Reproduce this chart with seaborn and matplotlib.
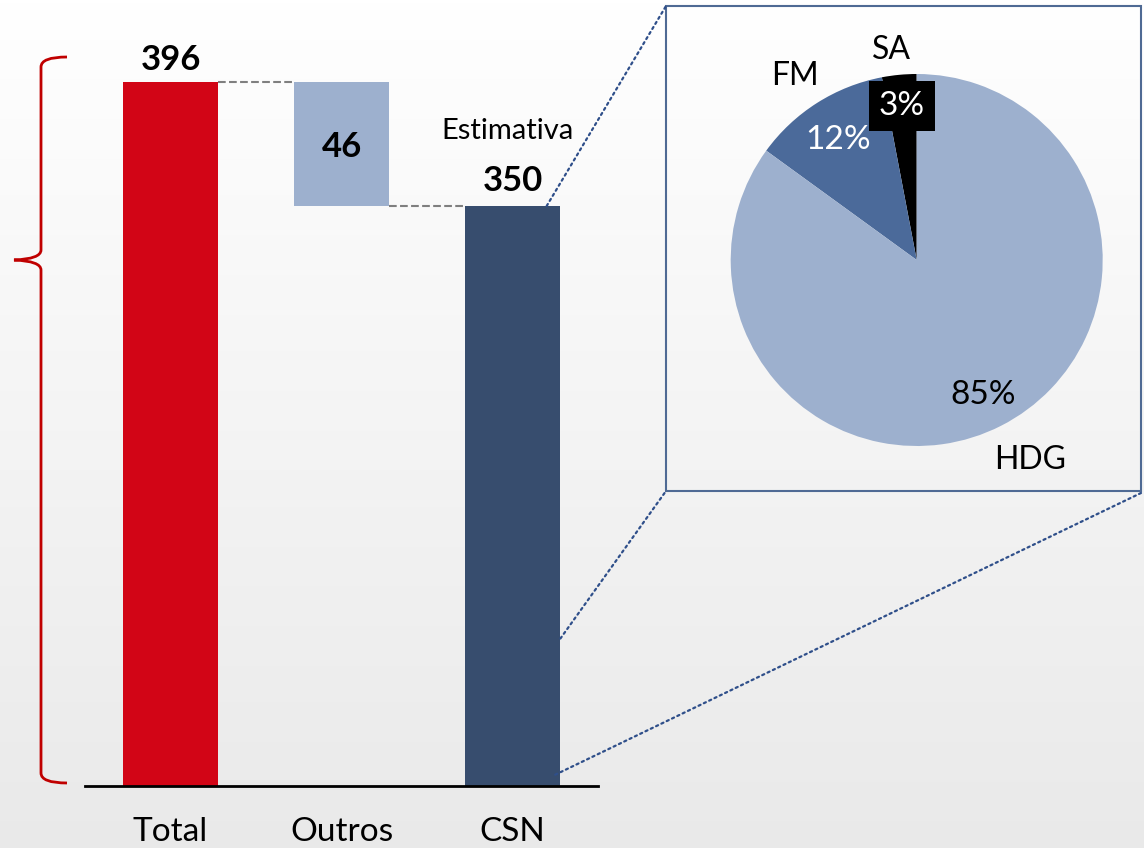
import numpy as np
import matplotlib
matplotlib.use("Agg")
import matplotlib.pyplot as plt
import seaborn as sns
from matplotlib.patches import Rectangle, PathPatch, ConnectionPatch
from matplotlib.path import Path

# ---------------- data ----------------
categories = ["Total", "Outros", "CSN"]
total_value = 396
outros_value = 46
csn_value = 350
bar_labels = ["396", "46", "350"]
estimate_note = "Estimativa"

pie_labels = ["SA", "FM", "HDG"]
pie_values = [3, 12, 85]

# ---------------- style ----------------
sns.set_theme(style="white")
plt.rcParams["font.family"] = ["Lato", "DejaVu Sans"]

RED = "#D20516"
LIGHT = "#9DB0CE"
DARK = "#374D6E"
FMCOL = "#4B6A9A"

W, H = 1144, 848
fig = plt.figure(figsize=(W / 100, H / 100), dpi=100)

# background gradient
bg = fig.add_axes([0, 0, 1, 1], zorder=-10)
grad = np.linspace(1.0, 0.915, 256).reshape(-1, 1)
bg.imshow(np.dstack([grad, grad, grad]), aspect="auto", extent=[0, 1, 0, 1])
bg.set_axis_off()

# ---------------- waterfall bars ----------------
ax = fig.add_axes([85 / W, 1 - 786 / H, 513 / W, 786 / H])
ax.patch.set_alpha(0)
df_vals = [total_value, 0, csn_value]
sns.barplot(x=categories, y=df_vals, palette=[RED, LIGHT, DARK], hue=categories,
            legend=False, width=0.56, saturation=1, linewidth=0, ax=ax)
ax.bar(1, outros_value, bottom=csn_value, width=0.56, color=LIGHT, linewidth=0, zorder=3)

ymin = 134.8
ax.set_ylim(ymin, 426.4)
ax.set_xlim(-0.5, 2.5)
for s in ["top", "right", "left"]:
    ax.spines[s].set_visible(False)
ax.spines["bottom"].set_color("black")
ax.spines["bottom"].set_linewidth(2)
ax.set_yticks([])
ax.set_ylabel("")
ax.tick_params(axis="x", length=0, pad=22, labelsize=24, colors="black")

# connectors
hw = 0.28
ax.plot([0 + hw, 1 - hw], [total_value, total_value], ls="--", color="#7F7F7F", lw=1.5)
ax.plot([1 + hw, 2 - hw], [csn_value, csn_value], ls="--", color="#7F7F7F", lw=1.5)

# value labels
ax.text(0, total_value + 4.5, bar_labels[0], ha="center", va="baseline",
        fontsize=25, fontweight="bold", color="black")
ax.text(1, 368.2, bar_labels[1], ha="center", va="baseline",
        fontsize=25, fontweight="bold", color="black")
ax.text(2, csn_value + 5.6, bar_labels[2], ha="center", va="baseline",
        fontsize=25, fontweight="bold", color="black")
ax.text(1.97, csn_value + 25, estimate_note, ha="center", va="baseline",
        fontsize=21, color="black")

# ---------------- pie inset ----------------
box = Rectangle((666 / W, 1 - 491 / H), (1141 - 666) / W, (491 - 6) / H,
                transform=fig.transFigure, fill=False, edgecolor="#4F6A94", lw=1.5, zorder=5)
fig.add_artist(box)

r = 186
cx, cy = 916.7, 260
pax = fig.add_axes([(cx - r) / W, 1 - (cy + r) / H, 2 * r / W, 2 * r / H])
pax.pie(pie_values, colors=["black", FMCOL, LIGHT], startangle=90, counterclock=True,
        radius=1, wedgeprops=dict(linewidth=0))
pax.set_xlim(-1, 1)
pax.set_ylim(-1, 1)
pax.set_axis_off()

lab_pos = {"SA": (-0.133, 1.129), "FM": (-0.654, 0.989), "HDG": (0.609, -1.075)}
pct_pos = {"SA": (-0.079, 0.828), "FM": (-0.423, 0.645), "HDG": (0.356, -0.726)}
pct_col = {"SA": "white", "FM": "white", "HDG": "black"}
for name, v in zip(pie_labels, pie_values):
    x, y = lab_pos[name]
    pax.text(x, y, name, ha="center", va="center", fontsize=23, color="black")
    x, y = pct_pos[name]
    kw = {}
    if name == "SA":
        kw["bbox"] = dict(facecolor="black", edgecolor="none", pad=7)
    pax.text(x, y, f"{v}%", ha="center", va="center", fontsize=24, color=pct_col[name], **kw)

# ---------------- zoom lines ----------------
DOT = "#2F4F8A"
for (xa, ya), (xb, yb) in [((2.2, csn_value), (666, 6)),
                           ((2.28, 189.5), (666, 491)),
                           ((2.25, 139), (1141, 493))]:
    con = ConnectionPatch(xyA=(xa, ya), coordsA=ax.transData,
                          xyB=(xb / W, 1 - yb / H), coordsB=fig.transFigure,
                          color=DOT, ls=":", lw=1.6, zorder=6)
    fig.add_artist(con)

# ---------------- brace ----------------
ov = fig.add_axes([0, 0, 1, 1], zorder=4)
ov.set_xlim(0, W)
ov.set_ylim(H, 0)
ov.set_axis_off()
ov.patch.set_alpha(0)
verts = [(67, 57), (41, 57), (41, 67),
         (41, 250),
         (41, 259), (14, 260),
         (41, 261), (41, 270),
         (41, 773),
         (41, 783), (67, 783)]
codes = [Path.MOVETO, Path.CURVE3, Path.CURVE3,
         Path.LINETO,
         Path.CURVE3, Path.CURVE3,
         Path.CURVE3, Path.CURVE3,
         Path.LINETO,
         Path.CURVE3, Path.CURVE3]
ov.add_patch(PathPatch(Path(verts, codes), fill=False, edgecolor="#C00000", lw=2))

fig.savefig("out.png", dpi=100)
